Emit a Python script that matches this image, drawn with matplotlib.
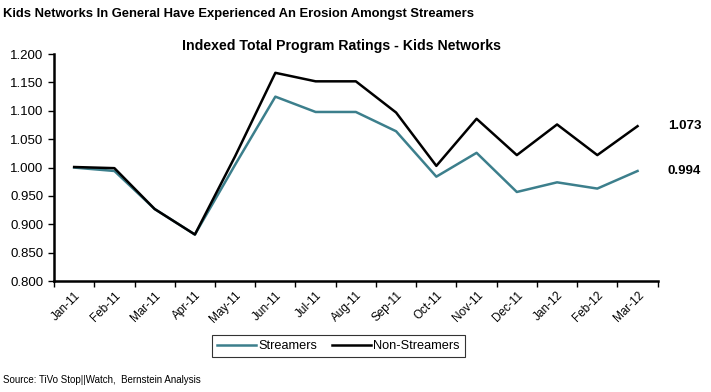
import matplotlib
matplotlib.use("Agg")
import matplotlib.pyplot as plt
import numpy as np

plt.rcParams["font.family"] = ["Liberation Sans", "DejaVu Sans"]

months = ["Jan-11", "Feb-11", "Mar-11", "Apr-11", "May-11", "Jun-11", "Jul-11",
          "Aug-11", "Sep-11", "Oct-11", "Nov-11", "Dec-11", "Jan-12", "Feb-12", "Mar-12"]
streamers = [1.000, 0.994, 0.927, 0.882, 1.005, 1.125, 1.098, 1.098, 1.064,
             0.984, 1.026, 0.957, 0.974, 0.963, 0.994]
non_streamers = [1.001, 0.999, 0.927, 0.882, 1.020, 1.167, 1.152, 1.152, 1.097,
                 1.003, 1.086, 1.022, 1.076, 1.022, 1.073]

teal = "#3c7f8c"

fig = plt.figure(figsize=(7.11, 3.92), dpi=100)
ax = fig.add_axes([0.076, 0.283, 0.849, 0.579])

x = np.arange(len(months))
ax.plot(x, streamers, color=teal, lw=1.8, label="Streamers")
ax.plot(x, non_streamers, color="black", lw=1.8, label="Non-Streamers")

ax.set_xlim(-0.5, len(months) - 0.5)
ax.set_ylim(0.8, 1.2)
yt = np.arange(0.8, 1.2001, 0.05)
ax.set_yticks(yt)
ax.set_yticklabels([f"{v:.3f}" for v in yt], fontsize=9.5)

ax.set_xticks(x)
ax.set_xticklabels(months, rotation=45, ha="right", rotation_mode="anchor", fontsize=8.5)
ax.tick_params(axis="x", length=0, pad=6)
ax.set_xticks(np.arange(-0.5, len(months)), minor=True)
ax.tick_params(axis="x", which="minor", length=4, width=1, direction="out")
ax.tick_params(axis="y", length=4, width=1, direction="out")

for side in ["top", "right"]:
    ax.spines[side].set_visible(False)
for side in ["left", "bottom"]:
    ax.spines[side].set_linewidth(1.8)

# end-of-line value labels
ax.text(x[-1] + 0.75, non_streamers[-1], f"{non_streamers[-1]:.3f}",
        fontsize=9.5, fontweight="bold", va="center")
ax.text(x[-1] + 0.75, streamers[-1], f"{streamers[-1]:.3f}",
        fontsize=9.5, fontweight="bold", va="center")

fig.text(0.481, 0.872, "Indexed Total Program Ratings - Kids Networks",
         ha="center", fontsize=10.2, fontweight="bold")
fig.text(0.004, 0.965, "Kids Networks In General Have Experienced An Erosion Amongst Streamers",
         fontsize=9.4, fontweight="bold", va="center")
fig.text(0.004, 0.03, "Source: TiVo Stop||Watch,  Bernstein Analysis", fontsize=7, va="center")

leg = fig.legend(loc="center", bbox_to_anchor=(0.476, 0.117), ncol=2, fontsize=9.2,
                 frameon=True, fancybox=False, edgecolor="black", handlelength=3.0,
                 handletextpad=0.2, columnspacing=1.2, borderpad=0.4)
leg.get_frame().set_linewidth(0.8)

fig.savefig("out.png", dpi=100)
